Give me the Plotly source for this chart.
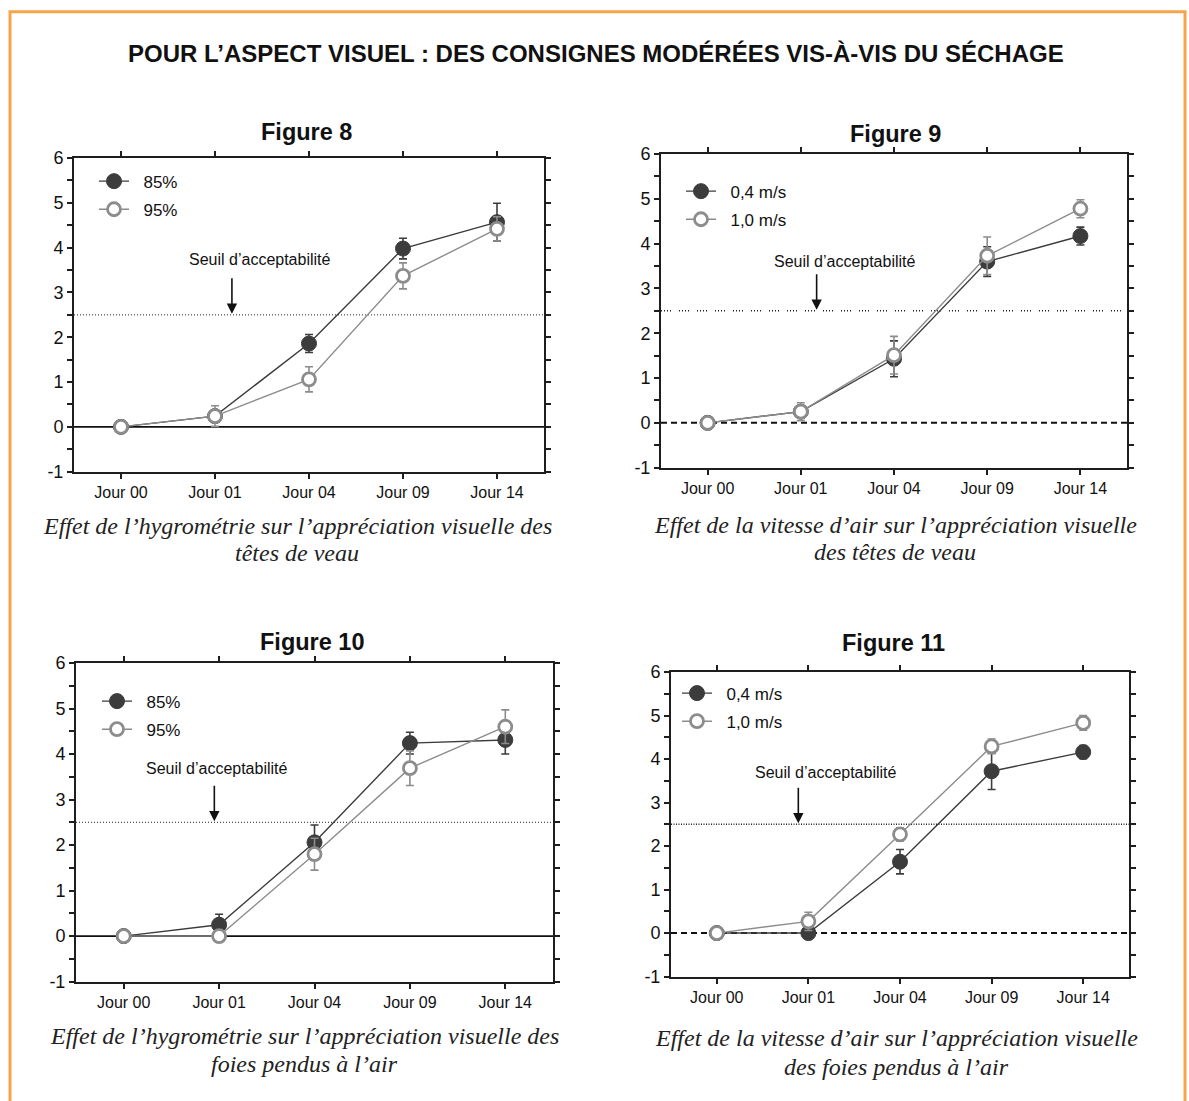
import plotly.graph_objects as go

W, H = 1189, 1101

# ---- data -------------------------------------------------------------
jours = ["Jour 00", "Jour 01", "Jour 04", "Jour 09", "Jour 14"]

# Figure 8 : hygrométrie, têtes de veau
f8_85 = [0.0, 0.24, 1.86, 3.98, 4.57]
f8_85_err = [0.0, 0.10, 0.20, 0.23, 0.42]
f8_95 = [0.0, 0.24, 1.06, 3.37, 4.42]
f8_95_err = [0.0, 0.23, 0.28, 0.29, 0.27]

# Figure 9 : vitesse d'air, têtes de veau
f9_04 = [0.0, 0.25, 1.43, 3.60, 4.17]
f9_04_err = [0.0, 0.10, 0.40, 0.33, 0.20]
f9_10 = [0.0, 0.25, 1.51, 3.73, 4.78]
f9_10_err = [0.0, 0.20, 0.42, 0.42, 0.20]

# Figure 10 : hygrométrie, foies pendus à l'air
f10_85 = [0.0, 0.25, 2.06, 4.24, 4.31]
f10_85_err = [0.0, 0.23, 0.38, 0.24, 0.31]
f10_95 = [0.0, 0.0, 1.80, 3.69, 4.60]
f10_95_err = [0.0, 0.05, 0.35, 0.38, 0.37]

# Figure 11 : vitesse d'air, foies pendus à l'air
f11_04 = [0.0, 0.0, 1.64, 3.72, 4.16]
f11_04_err = [0.0, 0.08, 0.28, 0.42, 0.15]
f11_10 = [0.0, 0.27, 2.27, 4.29, 4.83]
f11_10_err = [0.0, 0.21, 0.15, 0.17, 0.17]

seuil = 2.5
y_ticks = [-1, 0, 1, 2, 3, 4, 5, 6]
y_labels = ["-1", "0", "1", "2", "3", "4", "5", "6"]

# ---- styling ----------------------------------------------------------
SANS = "Liberation Sans, Arial, sans-serif"
SERIF = "Liberation Serif, Times New Roman, serif"
DARK = "#3c3c3c"
LIGHT = "#8c8c8c"
ORANGE = "#f5a548"
PAD = "\u00a0\u00a0"

# vertical placement helper: the drawn paper area starts ~10 px down the
# page and is ~1079 px tall
PAPER_TOP = 10.2
PAPER_H = 1079.0

# plot boxes in pixels: (left, top, right, bottom)
boxes = [
    (74, 158, 544, 471),
    (661, 154, 1127, 467),
    (76, 662, 553, 980),
    (671, 671, 1129, 975),
]

panels = [
    dict(title="Figure 8", a=(f8_85, f8_85_err, "85%"), b=(f8_95, f8_95_err, "95%"),
         zero="solid", seuil_dash="1px,2px", seuil_w=1,
         caption=("Effet de l’hygrométrie sur l’appréciation visuelle des", "têtes de veau"),
         cap_x=297, cap_y=(525, 552), title_xy=(306, 132),
         leg_xy=(94, 163.5), seuil_txt=(1.48, 3.73), arrow_x=1.18),
    dict(title="Figure 9", a=(f9_04, f9_04_err, "0,4 m/s"), b=(f9_10, f9_10_err, "1,0 m/s"),
         zero="dash", seuil_dash="1px,2px,1px,2px,1px,2px,1px,8px", seuil_w=1.5,
         caption=("Effet de la vitesse d’air sur l’appréciation visuelle", "des têtes de veau"),
         cap_x=895, cap_y=(524, 551), title_xy=(895, 134),
         leg_xy=(681, 173.5), seuil_txt=(1.47, 3.60), arrow_x=1.17),
    dict(title="Figure 10", a=(f10_85, f10_85_err, "85%"), b=(f10_95, f10_95_err, "95%"),
         zero="solid", seuil_dash="1px,2px", seuil_w=1,
         caption=("Effet de l’hygrométrie sur l’appréciation visuelle des", "foies pendus à l’air"),
         cap_x=304, cap_y=(1034, 1062), title_xy=(312, 641),
         leg_xy=(97, 682.5), seuil_txt=(0.98, 3.68), arrow_x=0.95),
    dict(title="Figure 11", a=(f11_04, f11_04_err, "0,4 m/s"), b=(f11_10, f11_10_err, "1,0 m/s"),
         zero="dash", seuil_dash="1px,1.5px", seuil_w=1.5,
         caption=("Effet de la vitesse d’air sur l’appréciation visuelle", "des foies pendus à l’air"),
         cap_x=896, cap_y=(1036, 1065), title_xy=(893, 642),
         leg_xy=(677, 674.5), seuil_txt=(1.19, 3.69), arrow_x=0.89),
]

fig = go.Figure()
layout = dict(
    width=W, height=H, margin=dict(l=0, r=0, t=0, b=0),
    paper_bgcolor="white", plot_bgcolor="white",
    showlegend=True, annotations=[], shapes=[],
)

def px_x(x):
    return x / W

def px_y(y):
    return 1 - (y - PAPER_TOP) / PAPER_H

for i, (p, box) in enumerate(zip(panels, boxes)):
    n = "" if i == 0 else str(i + 1)
    xa, ya = "x" + n, "y" + n
    leg = "legend" + n
    l, t, r, b = box

    for (vals, errs, name), col, filled in ((p["a"], DARK, True), (p["b"], LIGHT, False)):
        fig.add_trace(go.Scatter(
            x=jours, y=vals, name=PAD + name, mode="lines+markers",
            xaxis=xa, yaxis=ya, legend=leg, legendgroup=f"{i}-{name}",
            line=dict(color=col, width=1.4),
            marker=dict(
                symbol="circle", size=15 if filled else 13,
                color=DARK if filled else "white",
                line=dict(color=DARK if filled else LIGHT, width=1 if filled else 2.8),
            ),
            error_y=dict(type="data", array=errs, visible=True, color=col,
                         thickness=1.6, width=4),
        ))

    layout["xaxis" + n] = dict(
        domain=[px_x(l), px_x(r)], anchor=ya, type="category",
        categoryorder="array", categoryarray=jours, range=[-0.5, 4.5],
        showgrid=False, zeroline=False, showline=True, linewidth=2, linecolor="#1e1e1e",
        mirror="ticks", ticks="outside", ticklen=5, tickwidth=1.5, tickcolor="#1e1e1e",
        tickfont=dict(family=SANS, size=16, color="#111"),
    )
    layout["yaxis" + n] = dict(
        domain=[px_y(b), px_y(t)], anchor=xa, range=[-1, 6],
        tickvals=y_ticks, ticktext=y_labels, showgrid=False, zeroline=False,
        showline=True, linewidth=2, linecolor="#1e1e1e",
        mirror="ticks", ticks="outside", ticklen=5, tickwidth=1.5, tickcolor="#1e1e1e",
        minor=dict(dtick=0.5, ticks="outside", ticklen=5, tickwidth=1.5, tickcolor="#1e1e1e"),
        tickfont=dict(family=SANS, size=18, color="#111"),
    )

    lx, ly = p["leg_xy"]
    layout[leg] = dict(
        x=px_x(lx), y=px_y(ly), xanchor="left", yanchor="top",
        bgcolor="rgba(0,0,0,0)", borderwidth=0, tracegroupgap=3,
        font=dict(family=SANS, size=17, color="#111"), itemsizing="trace",
    )

    # zero line and acceptability threshold
    layout["shapes"].append(dict(
        type="line", xref=f"{xa} domain", yref=ya, x0=0, x1=1, y0=0, y1=0,
        line=dict(color="#111", width=1.6 if p["zero"] == "solid" else 2,
                  dash="solid" if p["zero"] == "solid" else "6px,4px"),
        layer="below",
    ))
    layout["shapes"].append(dict(
        type="line", xref=f"{xa} domain", yref=ya, x0=0, x1=1, y0=seuil, y1=seuil,
        line=dict(color="#222", width=p["seuil_w"], dash=p["seuil_dash"]),
        layer="below",
    ))

    sx, sy = p["seuil_txt"]
    layout["annotations"].append(dict(
        x=sx, y=sy, xref=xa, yref=ya, text="Seuil d’acceptabilité", showarrow=False,
        font=dict(family=SANS, size=16, color="#111"), xanchor="center", yanchor="middle",
    ))
    layout["annotations"].append(dict(
        x=p["arrow_x"], y=seuil, xref=xa, yref=ya, text="", showarrow=True,
        arrowhead=2, arrowsize=1.3, arrowwidth=1.6, arrowcolor="#111",
        ax=0, ay=-38, standoff=1,
    ))

    tx, ty = p["title_xy"]
    layout["annotations"].append(dict(
        x=px_x(tx), y=px_y(ty), xref="paper", yref="paper", text=f"<b>{p['title']}</b>",
        showarrow=False, font=dict(family=SANS, size=23.5, color="#111"),
        xanchor="center", yanchor="middle",
    ))
    for line_txt, cy in zip(p["caption"], p["cap_y"]):
        layout["annotations"].append(dict(
            x=px_x(p["cap_x"]), y=px_y(cy), xref="paper", yref="paper",
            text=f"<i>{line_txt}</i>", showarrow=False,
            font=dict(family=SERIF, size=24, color="#222"),
            xanchor="center", yanchor="middle",
        ))

# main heading
layout["annotations"].append(dict(
    x=px_x(596), y=px_y(54), xref="paper", yref="paper",
    text="<b>POUR L’ASPECT VISUEL : DES CONSIGNES MODÉRÉES VIS-À-VIS DU SÉCHAGE</b>",
    showarrow=False, font=dict(family=SANS, size=24, color="#111"),
    xanchor="center", yanchor="middle",
))

# orange frame around the panel
layout["shapes"].append(dict(
    type="rect", xref="paper", yref="paper",
    x0=px_x(10), x1=px_x(1185), y0=-0.03, y1=px_y(12),
    line=dict(color=ORANGE, width=3), fillcolor="rgba(0,0,0,0)",
))

fig.update_layout(**layout)
fig.write_html("out.html")
